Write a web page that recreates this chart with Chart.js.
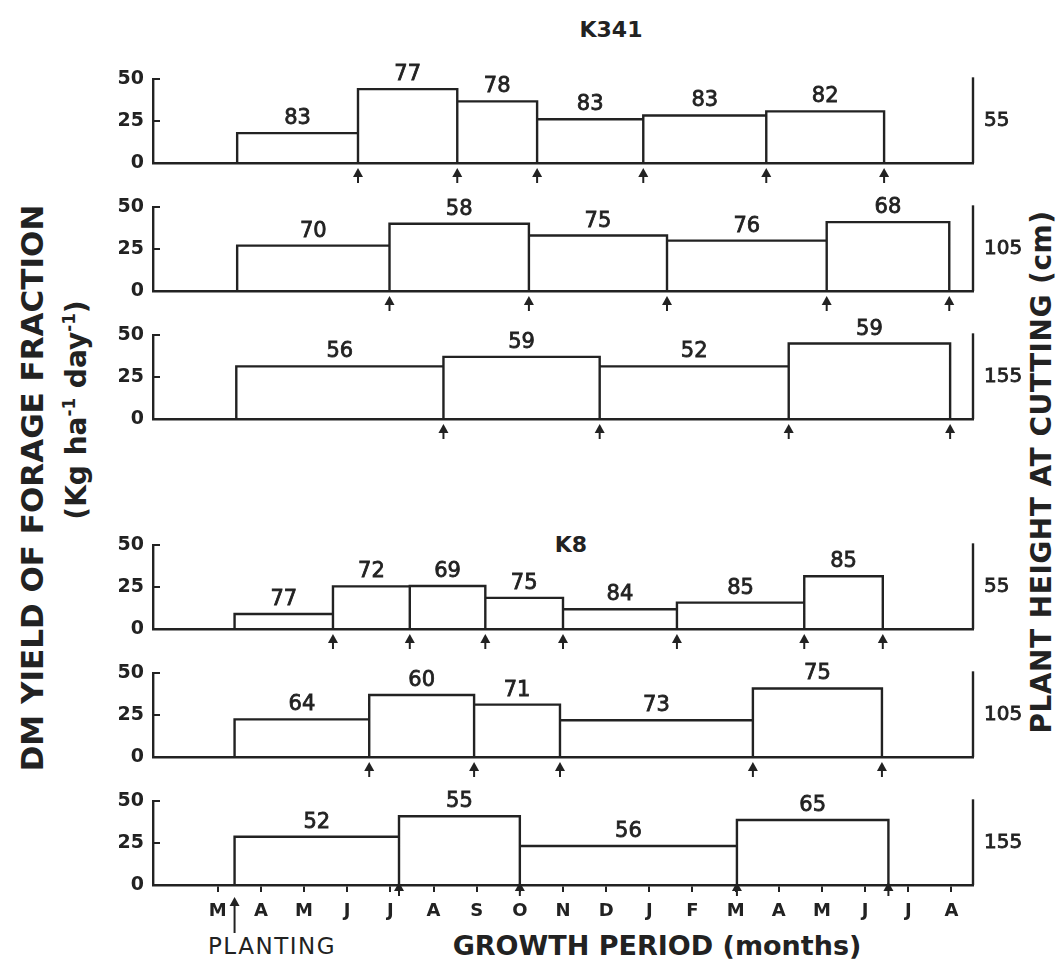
<!DOCTYPE html>
<html>
<head>
<meta charset="utf-8">
<title>DM yield of forage fraction</title>
<script src="https://cdn.jsdelivr.net/npm/chart.js@4.4.1/dist/chart.umd.min.js"></script>
<style>
  body { margin: 0; width: 1063px; height: 973px; position: relative; overflow: hidden; background: #fff; color: #222; font-family: "DejaVu Sans", sans-serif; }
  canvas { position: absolute; left: 0; }
  .txt { position: absolute; white-space: nowrap; line-height: 1; }
  .c { transform: translate(-50%, -50%); }
  .rot { transform: translate(-50%, -50%) rotate(-90deg); }
  sup { font-size: 0.6em; vertical-align: 0.7em; }
</style>
</head>
<body>

<div class="txt c" style="left:611px; top:30px; font-weight:bold; font-size:22px;">K341</div>
<div class="txt c" style="left:571px; top:545px; font-weight:bold; font-size:22px;">K8</div>
<div class="txt rot" style="left:32px; top:488px; font-weight:bold; font-size:31px;">DM YIELD OF FORAGE FRACTION</div>
<div class="txt rot" style="left:76px; top:410px; font-weight:bold; font-size:28px;">(Kg ha<sup>-1</sup> day<sup>-1</sup>)</div>
<div class="txt rot" style="left:1042px; top:472px; font-weight:bold; font-size:28px; letter-spacing:0.5px;">PLANT HEIGHT AT CUTTING (cm)</div>
<div class="txt c" style="left:272px; top:946px; font-size:23px; letter-spacing:1.5px;">PLANTING</div>
<div class="txt c" style="left:657px; top:945px; font-weight:bold; font-size:27px;">GROWTH PERIOD (months)</div>

<script>
const INK = '#222';

// month ticks, March of the planting year to August of the next
const monthLabels = ['M', 'A', 'M', 'J', 'J', 'A', 'S', 'O', 'N', 'D', 'J', 'F', 'M', 'A', 'M', 'J', 'J', 'A'];
const plantingMonth = 0.39;

// period boundaries (months from the first M tick), yields (kg/ha/day) and the figure printed over each period

// K341 cut at 55 cm
const k341Edges55 = [0.45, 3.25, 5.55, 7.40, 9.86, 12.71, 15.44];
const k341Yield55 = [17.8, 44.0, 36.7, 26.0, 28.3, 30.7];
const k341Pct55 = [83, 77, 78, 83, 83, 82];

// K341 cut at 105 cm
const k341Edges105 = [0.45, 3.98, 7.21, 10.41, 14.11, 16.95];
const k341Yield105 = [27.0, 40.0, 33.0, 30.0, 41.0];
const k341Pct105 = [70, 58, 75, 76, 68];

// K341 cut at 155 cm
const k341Edges155 = [0.43, 5.23, 8.85, 13.23, 16.97];
const k341Yield155 = [31.3, 37.0, 31.3, 44.9];
const k341Pct155 = [56, 59, 52, 59];

// K8 cut at 55 cm
const k8Edges55 = [0.39, 2.67, 4.45, 6.20, 8.00, 10.64, 13.59, 15.41];
const k8Yield55 = [8.9, 25.4, 25.6, 18.5, 11.8, 15.7, 31.4];
const k8Pct55 = [77, 72, 69, 75, 84, 85, 85];

// K8 cut at 105 cm
const k8Edges105 = [0.39, 3.51, 5.94, 7.93, 12.40, 15.39];
const k8Yield105 = [22.4, 36.9, 31.2, 21.9, 40.8];
const k8Pct105 = [64, 60, 71, 73, 75];

// K8 cut at 155 cm
const k8Edges155 = [0.39, 4.20, 7.00, 12.03, 15.54];
const k8Yield155 = [28.7, 40.9, 23.2, 38.7];
const k8Pct155 = [52, 55, 56, 65];

const panels = [
  { edges: k341Edges55, yields: k341Yield55, pct: k341Pct55, height: '55', zeroY: 163 },
  { edges: k341Edges105, yields: k341Yield105, pct: k341Pct105, height: '105', zeroY: 291 },
  { edges: k341Edges155, yields: k341Yield155, pct: k341Pct155, height: '155', zeroY: 419 },
  { edges: k8Edges55, yields: k8Yield55, pct: k8Pct55, height: '55', zeroY: 629 },
  { edges: k8Edges105, yields: k8Yield105, pct: k8Pct105, height: '105', zeroY: 757 },
  { edges: k8Edges155, yields: k8Yield155, pct: k8Pct155, height: '155', zeroY: 885 }
];

// one polyline per panel: up, across, back down for every growth period
function outline(edges, yields) {
  const pts = [{ x: edges[0], y: 0 }];
  yields.forEach((v, i) => {
    pts.push({ x: edges[i], y: v }, { x: edges[i + 1], y: v }, { x: edges[i + 1], y: 0 });
  });
  return pts;
}

function drawArrow(ctx, x, tip, len) {
  ctx.beginPath();
  ctx.moveTo(x, tip + 5);
  ctx.lineTo(x, tip + len);
  ctx.stroke();
  ctx.beginPath();
  ctx.moveTo(x, tip);
  ctx.lineTo(x - 5, tip + 9);
  ctx.lineTo(x + 5, tip + 9);
  ctx.closePath();
  ctx.fill();
}

function label(ctx, text, x, y) {
  ctx.fillText(text, x, y);
  ctx.strokeText(text, x, y);
}

const panelMarks = {
  id: 'panelMarks',
  afterDraw(chart, args, opts) {
    const { ctx, chartArea, scales: { x, y } } = chart;
    const y0 = y.getPixelForValue(0);
    ctx.save();
    ctx.strokeStyle = INK;
    ctx.fillStyle = INK;

    // short inward ticks on the yield axis
    ctx.lineWidth = 2;
    y.ticks.forEach(t => {
      const py = y.getPixelForValue(t.value);
      ctx.beginPath();
      ctx.moveTo(chartArea.left, py);
      ctx.lineTo(chartArea.left + 7, py);
      ctx.stroke();
    });

    // right hand frame line
    ctx.lineWidth = 2.4;
    ctx.beginPath();
    ctx.moveTo(chartArea.right, y.getPixelForValue(51));
    ctx.lineTo(chartArea.right, y0);
    ctx.stroke();

    // figure over each period
    ctx.font = '21px "DejaVu Sans"';
    ctx.lineWidth = 0.8;
    ctx.textAlign = 'center';
    ctx.textBaseline = 'bottom';
    opts.pct.forEach((v, k) => {
      const cx = x.getPixelForValue((opts.edges[k] + opts.edges[k + 1]) / 2);
      label(ctx, String(v), cx, y.getPixelForValue(opts.yields[k]) - 4);
    });

    // cutting height
    ctx.font = '20px "DejaVu Sans"';
    ctx.textAlign = 'left';
    ctx.textBaseline = 'middle';
    label(ctx, opts.height, chartArea.right + 11, y.getPixelForValue(25));

    // cutting dates
    ctx.lineWidth = 2;
    opts.edges.slice(1).forEach(e => {
      const px = x.getPixelForValue(e);
      if (opts.last) drawArrow(ctx, px, y0 - 3, 14);
      else drawArrow(ctx, px, y0 + 5, 15);
    });
    if (opts.last) drawArrow(ctx, x.getPixelForValue(plantingMonth), y0 + 12, 36);
    ctx.restore();
  }
};

panels.forEach((p, i) => {
  const last = i === panels.length - 1;
  const h = last ? 190 : 160;
  const cv = document.createElement('canvas');
  cv.width = 1063;
  cv.height = h;
  cv.style.top = (p.zeroY - 120) + 'px';
  document.body.appendChild(cv);

  new Chart(cv, {
    type: 'scatter',
    data: {
      datasets: [{
        data: outline(p.edges, p.yields),
        showLine: true,
        borderColor: INK,
        borderWidth: 2.4,
        pointRadius: 0,
        pointHoverRadius: 0,
        fill: false
      }]
    },
    options: {
      responsive: false,
      animation: false,
      devicePixelRatio: 1,
      events: [],
      layout: { padding: { top: 36, left: 93, right: 90, bottom: h - 160 } },
      plugins: {
        legend: { display: false },
        tooltip: { enabled: false },
        panelMarks: { edges: p.edges, yields: p.yields, pct: p.pct, height: p.height, last: last }
      },
      scales: {
        x: {
          type: 'linear',
          min: -1.5,
          max: 17.5,
          afterFit: s => { s.height = 40; },
          afterBuildTicks: s => { s.ticks = monthLabels.map((m, k) => ({ value: k })); },
          grid: { display: last, drawOnChartArea: false, drawTicks: last, tickLength: 7, color: INK, lineWidth: 2 },
          border: { display: true, color: INK, width: 2.4 },
          ticks: {
            display: last,
            autoSkip: false,
            maxRotation: 0,
            padding: 9,
            color: INK,
            font: { family: 'DejaVu Sans', size: 18, weight: 'bold' },
            callback: (v, k) => monthLabels[k]
          }
        },
        y: {
          min: 0,
          max: 50,
          afterFit: s => { s.width = 60; },
          grid: { display: false, drawTicks: false },
          border: { display: true, color: INK, width: 2.4 },
          ticks: {
            stepSize: 25,
            padding: 9,
            color: INK,
            font: { family: 'DejaVu Sans', size: 19, weight: 'bold' }
          }
        }
      }
    },
    plugins: [panelMarks]
  });
});
</script>
</body>
</html>
